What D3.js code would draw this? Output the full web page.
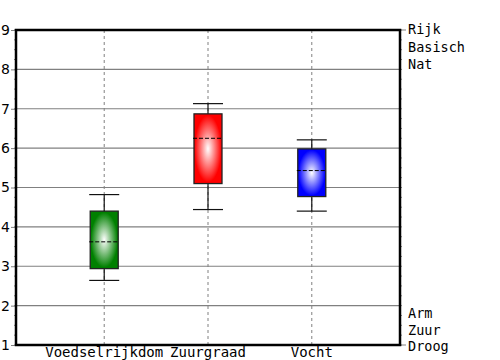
<!DOCTYPE html>
<html>
<head>
<meta charset="utf-8">
<script src="https://cdn.jsdelivr.net/npm/d3@7"></script>
<style>
  body { margin: 0; background: #fff; }
  text { font-family: "DejaVu Sans Mono", monospace; }
</style>
</head>
<body>
<script>
// data
const categories = ["Voedselrijkdom", "Zuurgraad", "Vocht"];
const whiskerLow = [2.64, 4.44, 4.40];
const boxLow = [2.94, 5.10, 4.77];
const medians = [3.62, 6.25, 5.43];
const boxHigh = [4.40, 6.87, 5.98];
const whiskerHigh = [4.82, 7.13, 6.21];
const colors = ["#008000", "#ff0000", "#0000ff"];
const yTicks = [1, 2, 3, 4, 5, 6, 7, 8, 9];
const topLabels = ["Rijk", "Basisch", "Nat"];
const bottomLabels = ["Arm", "Zuur", "Droog"];

const width = 500, height = 360;
const margin = {top: 30, right: 100, bottom: 15, left: 16};

const svg = d3.select("body").append("svg")
    .attr("width", width)
    .attr("height", height);

const x = d3.scalePoint()
    .domain(categories)
    .range([margin.left, width - margin.right])
    .padding(0.85);

const y = d3.scaleLinear()
    .domain([1, 9])
    .range([height - margin.bottom, margin.top]);

// gradients for boxes
const defs = svg.append("defs");
colors.forEach(function (c, i) {
    const g = defs.append("radialGradient")
        .attr("id", "grad" + i)
        .attr("cx", "50%").attr("cy", "50%").attr("r", "60%");
    g.append("stop").attr("offset", "0%").attr("stop-color", "#fff");
    g.append("stop").attr("offset", "80%").attr("stop-color", c);
    g.append("stop").attr("offset", "100%").attr("stop-color", c);
});

// horizontal grid
svg.append("g")
    .selectAll("line")
    .data(yTicks.slice(1, -1))
    .enter().append("line")
    .attr("x1", margin.left).attr("x2", width - margin.right)
    .attr("y1", d => y(d)).attr("y2", d => y(d))
    .style("stroke", "#808080")
    .style("stroke-width", 1.2);

// vertical dashed grid
svg.append("g")
    .selectAll("line")
    .data(categories)
    .enter().append("line")
    .attr("x1", d => x(d)).attr("x2", d => x(d))
    .attr("y1", margin.top).attr("y2", height - margin.bottom)
    .style("stroke", "#808080")
    .style("stroke-dasharray", "3,3");

// left axis
const leftAxis = svg.append("g")
    .attr("transform", "translate(" + margin.left + ",0)")
    .call(d3.axisLeft(y).tickValues(yTicks).tickSize(5).tickPadding(1).tickFormat(d3.format("d")));
leftAxis.select(".domain").remove();
leftAxis.selectAll("line").style("stroke", "#808080");
leftAxis.selectAll("text")
    .style("font-family", "'DejaVu Sans', sans-serif")
    .style("font-size", "14px")
    .style("fill", "#000");

// minor ticks
const minor = d3.range(1, 9.01, 0.25);
[margin.left, width - margin.right].forEach(function (px, k) {
    svg.append("g")
        .selectAll("line")
        .data(minor)
        .enter().append("line")
        .attr("x1", px).attr("x2", k === 0 ? px - 2 : px + 2)
        .attr("y1", d => y(d)).attr("y2", d => y(d))
        .style("stroke", "#888");
});

// right side ticks
svg.append("g")
    .selectAll("line")
    .data([1, 9])
    .enter().append("line")
    .attr("x1", width - margin.right).attr("x2", width - margin.right + 6)
    .attr("y1", d => y(d)).attr("y2", d => y(d))
    .style("stroke", "#808080");

// whiskers
const boxes = svg.append("g")
    .selectAll("g")
    .data(categories)
    .enter().append("g");

boxes.append("line")
    .attr("x1", d => x(d)).attr("x2", d => x(d))
    .attr("y1", (d, i) => y(whiskerLow[i])).attr("y2", (d, i) => y(whiskerHigh[i]))
    .style("stroke", "#111").style("stroke-width", 1.2);

[whiskerLow, whiskerHigh].forEach(function (arr) {
    boxes.append("line")
        .attr("x1", d => x(d) - 15).attr("x2", d => x(d) + 15)
        .attr("y1", (d, i) => y(arr[i])).attr("y2", (d, i) => y(arr[i]))
        .style("stroke", "#111").style("stroke-width", 1.2);
});

boxes.append("rect")
    .attr("x", d => x(d) - 14)
    .attr("width", 28)
    .attr("y", (d, i) => y(boxHigh[i]))
    .attr("height", (d, i) => y(boxLow[i]) - y(boxHigh[i]))
    .style("fill", (d, i) => "url(#grad" + i + ")")
    .style("stroke", "#222")
    .style("stroke-width", 1.3);

boxes.append("line")
    .attr("x1", d => x(d) - 15).attr("x2", d => x(d) + 13)
    .attr("y1", (d, i) => y(medians[i])).attr("y2", (d, i) => y(medians[i]))
    .style("stroke", "#000")
    .style("stroke-dasharray", "4,2");

// frame
svg.append("rect")
    .attr("x", margin.left).attr("y", margin.top)
    .attr("width", width - margin.right - margin.left)
    .attr("height", height - margin.bottom - margin.top)
    .style("fill", "none")
    .style("stroke", "#000")
    .style("stroke-width", 2.5);

// x labels
svg.append("g")
    .selectAll("text")
    .data(categories)
    .enter().append("text")
    .text(d => d)
    .attr("x", d => x(d))
    .attr("y", height - 3)
    .attr("text-anchor", "middle")
    .style("font-size", "14px");

// right labels
svg.append("g")
    .selectAll("text")
    .data(topLabels)
    .enter().append("text")
    .text(d => d)
    .attr("x", width - margin.right + 8)
    .attr("y", (d, i) => y(9) + 4 + i * 17.5)
    .style("font-size", "13.5px");

svg.append("g")
    .selectAll("text")
    .data(bottomLabels)
    .enter().append("text")
    .text(d => d)
    .attr("x", width - margin.right + 8)
    .attr("y", (d, i) => y(1) + 6 - (2 - i) * 16.5)
    .style("font-size", "13.5px");
</script>
</body>
</html>
